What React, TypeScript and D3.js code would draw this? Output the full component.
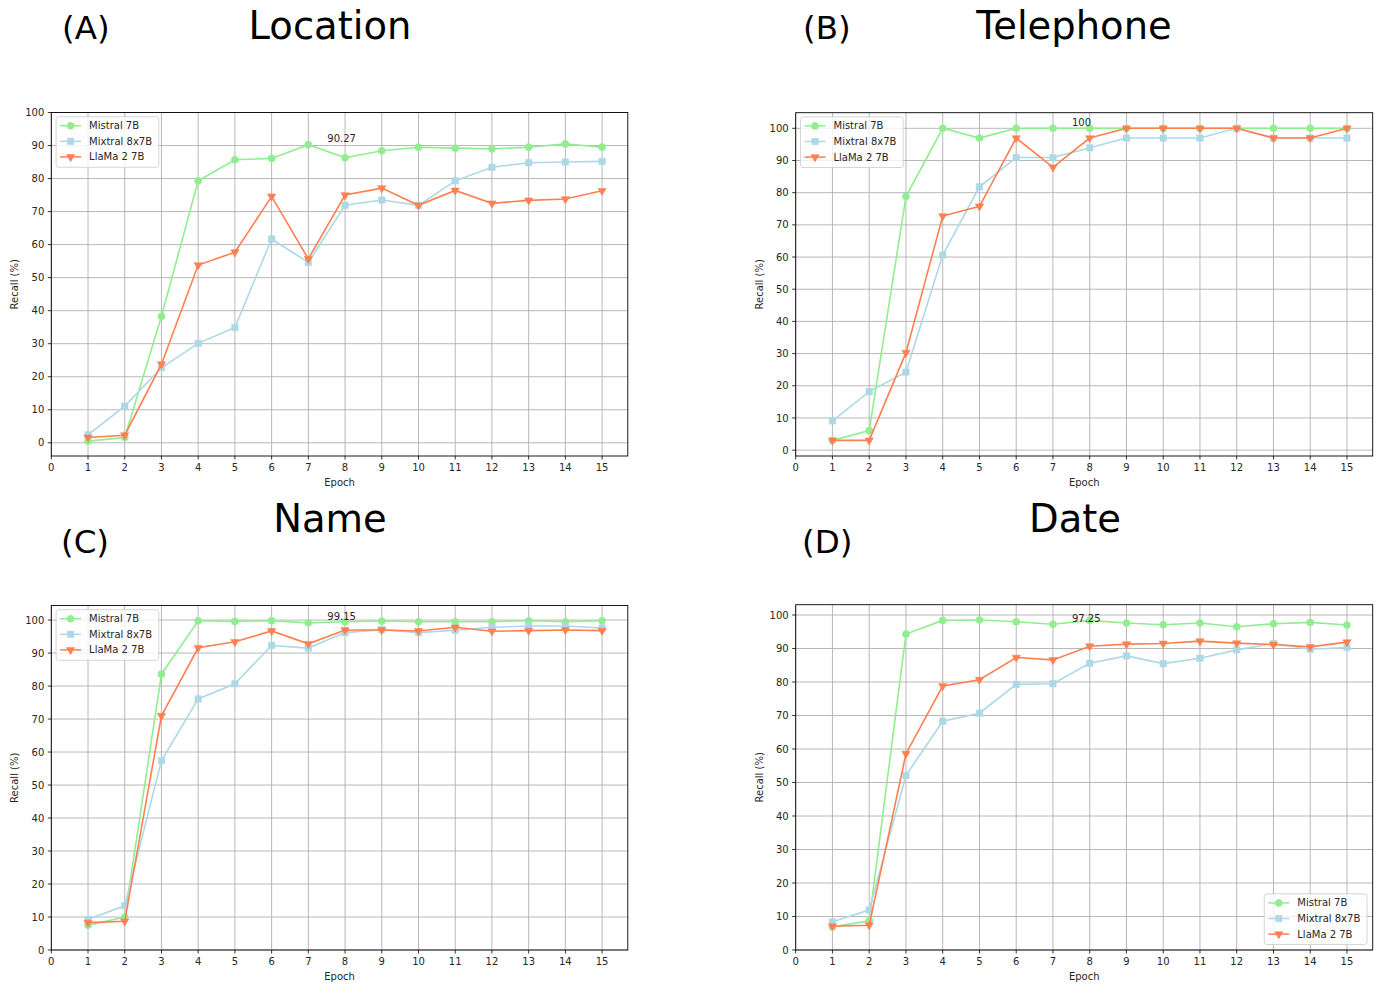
import React from "react";
import * as d3 from "d3";

// Epoch index shared by every panel
const epochs = [1, 2, 3, 4, 5, 6, 7, 8, 9, 10, 11, 12, 13, 14, 15];
const xTicks = [0, 1, 2, 3, 4, 5, 6, 7, 8, 9, 10, 11, 12, 13, 14, 15];
const yTicks = [0, 10, 20, 30, 40, 50, 60, 70, 80, 90, 100];

const seriesNames = ["Mistral 7B", "Mixtral 8x7B", "LlaMa 2 7B"];
const seriesColors = ["#90ee90", "#add8e6", "#ff7f50"];
const seriesMarkers = ["circle", "square", "triangleDown"];

// Recall (%) per epoch
const locationMistral = [0.5, 1.6, 38.3, 79.3, 85.7, 86.1, 90.27, 86.3, 88.4, 89.5, 89.2, 89.0, 89.5, 90.5, 89.5];
const locationMixtral = [2.4, 11.1, 22.7, 30.1, 34.9, 61.7, 54.6, 71.9, 73.5, 71.9, 79.3, 83.4, 84.8, 85.0, 85.2];
const locationLlama = [1.6, 2.3, 23.8, 53.8, 57.7, 74.6, 55.7, 75.0, 77.1, 71.9, 76.4, 72.5, 73.4, 73.8, 76.3];

const telephoneMistral = [3.03, 6.06, 78.79, 100, 96.97, 100, 100, 100, 100, 100, 100, 100, 100, 100, 100];
const telephoneMixtral = [9.09, 18.18, 24.24, 60.61, 81.82, 90.91, 90.91, 93.94, 96.97, 96.97, 96.97, 100, 96.97, 96.97, 96.97];
const telephoneLlama = [3.03, 3.03, 30.3, 72.73, 75.76, 96.97, 87.88, 96.97, 100, 100, 100, 100, 96.97, 96.97, 100];

const nameMistral = [7.5, 10.0, 83.6, 99.8, 99.6, 99.8, 99.15, 99.5, 99.7, 99.5, 99.5, 99.5, 99.8, 99.5, 99.8];
const nameMixtral = [9.3, 13.4, 57.4, 76.1, 80.7, 92.3, 91.5, 96.2, 97.1, 96.2, 96.9, 97.8, 98.2, 98.2, 97.6];
const nameLlama = [8.3, 8.7, 71.0, 91.6, 93.4, 96.7, 92.8, 97.0, 97.0, 96.7, 97.8, 96.6, 96.8, 97.0, 96.8];

const dateMistral = [6.9, 8.7, 94.3, 98.4, 98.5, 98.0, 97.25, 98.4, 97.6, 97.1, 97.6, 96.5, 97.4, 97.8, 97.0];
const dateMixtral = [8.4, 11.9, 52.1, 68.3, 70.7, 79.3, 79.5, 85.6, 87.8, 85.5, 87.1, 89.6, 91.5, 89.8, 90.3];
const dateLlama = [7.1, 7.4, 58.6, 78.8, 80.7, 87.3, 86.6, 90.7, 91.3, 91.5, 92.2, 91.6, 91.2, 90.5, 91.9];

// Epoch whose Mistral 7B value is printed on each panel
const annotatedEpoch = 7;

const FONT = "'DejaVu Sans', Verdana, sans-serif";
const TEXT = "#262626";

type Panel = {
  letter: string;
  title: string;
  series: number[][];
  legend: "upper left" | "lower right";
  box: { x: number; y: number; w: number; h: number };
  letterPos: [number, number];
  titlePos: [number, number];
};

const panels: Panel[] = [
  {
    letter: "(A)",
    title: "Location",
    series: [locationMistral, locationMixtral, locationLlama],
    legend: "upper left",
    box: { x: 51.3, y: 112.5, w: 576.5, h: 343.5 },
    letterPos: [62, 38.5],
    titlePos: [330, 39],
  },
  {
    letter: "(B)",
    title: "Telephone",
    series: [telephoneMistral, telephoneMixtral, telephoneLlama],
    legend: "upper left",
    box: { x: 795.7, y: 112.7, w: 577, h: 343.3 },
    letterPos: [803, 38.5],
    titlePos: [1074, 39],
  },
  {
    letter: "(C)",
    title: "Name",
    series: [nameMistral, nameMixtral, nameLlama],
    legend: "upper left",
    box: { x: 51.3, y: 605.5, w: 576.5, h: 344.5 },
    letterPos: [61, 553],
    titlePos: [330, 532],
  },
  {
    letter: "(D)",
    title: "Date",
    series: [dateMistral, dateMixtral, dateLlama],
    legend: "lower right",
    box: { x: 795.7, y: 604.7, w: 577, h: 345.3 },
    letterPos: [802, 553],
    titlePos: [1075, 532],
  },
];

function markerPath(kind: string): string {
  if (kind === "circle") return d3.symbol(d3.symbolCircle, 40)() as string;
  if (kind === "square") return d3.symbol(d3.symbolSquare, 42)() as string;
  return d3.symbol(d3.symbolTriangle, 30)() as string;
}

function Marker({ kind, x, y, color }: { kind: string; x: number; y: number; color: string }) {
  const rot = kind === "triangleDown" ? " rotate(180)" : "";
  return <path d={markerPath(kind)} transform={`translate(${x},${y})${rot}`} fill={color} stroke={color} strokeWidth={0.5} />;
}

function Legend({ x, y }: { x: number; y: number }) {
  const w = 102.7;
  const h = 50.6;
  return (
    <g transform={`translate(${x},${y})`}>
      <rect width={w} height={h} rx={2.5} fill="white" fillOpacity={0.8} stroke="#cccccc" strokeWidth={0.8} />
      {seriesNames.map((name, i) => {
        const cy = 9 + i * 15.6;
        return (
          <g key={name}>
            <line x1={4} x2={25} y1={cy} y2={cy} stroke={seriesColors[i]} strokeWidth={1.5} />
            <Marker kind={seriesMarkers[i]} x={14.5} y={cy} color={seriesColors[i]} />
            <text x={33} y={cy + 3.6} fontSize={10} fill={TEXT} fontFamily={FONT}>
              {name}
            </text>
          </g>
        );
      })}
    </g>
  );
}

function PanelChart({ p }: { p: Panel }) {
  const { x: bx, y: by, w, h } = p.box;
  const all = p.series.flat();
  const lo = d3.min(all) as number;
  const hi = d3.max(all) as number;
  const pad = (hi - lo) * 0.05;
  const x = d3.scaleLinear().domain([0, 15.7]).range([0, w]);
  const y = d3
    .scaleLinear()
    .domain([Math.min(0, lo - pad), Math.max(100, hi + pad)])
    .range([h, 0]);
  const line = d3
    .line<number>()
    .x((_, i) => x(epochs[i]))
    .y((d) => y(d));

  const ai = epochs.indexOf(annotatedEpoch);
  const aval = p.series[0][ai];
  const alabel = Number.isInteger(aval) ? String(aval) : d3.format(".2f")(aval);

  return (
    <g>
      <text x={p.letterPos[0]} y={p.letterPos[1]} fontSize={32.5} fontFamily={FONT} fill="#000">
        {p.letter}
      </text>
      <text x={p.titlePos[0]} y={p.titlePos[1]} fontSize={38.5} fontFamily={FONT} fill="#000" textAnchor="middle">
        {p.title}
      </text>
      <g transform={`translate(${bx},${by})`}>
        {/* grid */}
        {xTicks.map((t) => (
          <line key={`gx${t}`} x1={x(t)} x2={x(t)} y1={0} y2={h} stroke="#b0b0b0" strokeWidth={0.9} />
        ))}
        {yTicks.map((t) => (
          <line key={`gy${t}`} x1={0} x2={w} y1={y(t)} y2={y(t)} stroke="#b0b0b0" strokeWidth={0.9} />
        ))}
        {/* series */}
        {p.series.map((vals, si) => (
          <g key={si}>
            <path d={line(vals) as string} fill="none" stroke={seriesColors[si]} strokeWidth={1.6} />
            {vals.map((v, i) => (
              <Marker key={i} kind={seriesMarkers[si]} x={x(epochs[i])} y={y(v)} color={seriesColors[si]} />
            ))}
          </g>
        ))}
        <text x={x(annotatedEpoch) + 19} y={y(aval) - 2.5} fontSize={10} fontFamily={FONT} fill={TEXT}>
          {alabel}
        </text>
        {/* ticks */}
        {xTicks.map((t) => (
          <g key={`tx${t}`}>
            <line x1={x(t)} x2={x(t)} y1={h} y2={h + 3.5} stroke="#000" strokeWidth={0.8} />
            <text x={x(t)} y={h + 15} fontSize={10} fontFamily={FONT} fill={TEXT} textAnchor="middle">
              {t}
            </text>
          </g>
        ))}
        {yTicks.map((t) => (
          <g key={`ty${t}`}>
            <line x1={-3.5} x2={0} y1={y(t)} y2={y(t)} stroke="#000" strokeWidth={0.8} />
            <text x={-7} y={y(t) + 3.6} fontSize={10} fontFamily={FONT} fill={TEXT} textAnchor="end">
              {t}
            </text>
          </g>
        ))}
        <rect x={0} y={0} width={w} height={h} fill="none" stroke="#000" strokeWidth={0.9} />
        <text x={w / 2} y={h + 30} fontSize={10} fontFamily={FONT} fill={TEXT} textAnchor="middle">
          Epoch
        </text>
        <text
          transform={`translate(${-33},${h / 2}) rotate(-90)`}
          fontSize={10}
          fontFamily={FONT}
          fill={TEXT}
          textAnchor="middle"
        >
          Recall (%)
        </text>
        {p.legend === "upper left" ? <Legend x={4.8} y={4.2} /> : <Legend x={w - 5.7 - 102.7} y={h - 5.5 - 50.6} />}
      </g>
    </g>
  );
}

export default function App() {
  return (
    <svg
      width={1384}
      height={985}
      viewBox="0 0 1384 985"
      style={{ position: "absolute", left: 0, top: 0, background: "#fff" }}
    >
      <rect width={1384} height={985} fill="#fff" />
      {panels.map((p) => (
        <PanelChart key={p.letter} p={p} />
      ))}
    </svg>
  );
}
